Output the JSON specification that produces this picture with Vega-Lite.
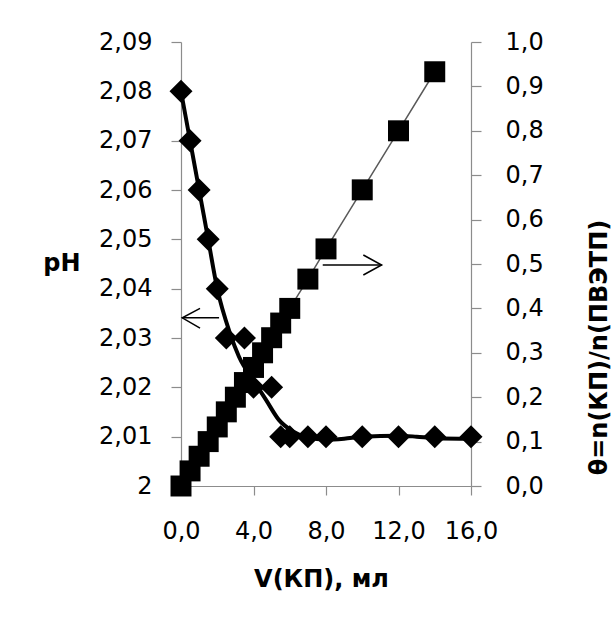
{
  "$schema": "https://vega.github.io/schema/vega-lite/v6.json",
  "width": 290,
  "height": 444,
  "autosize": {"type": "none"},
  "padding": {"left": 181, "top": 42, "right": 144, "bottom": 134},
  "background": "white",
  "config": {
    "view": {"stroke": null},
    "font": "DejaVu Sans",
    "axis": {
      "grid": false,
      "domainColor": "#8c8c8c",
      "tickColor": "#8c8c8c",
      "domainWidth": 1.2,
      "tickWidth": 1.2,
      "labelFont": "DejaVu Sans",
      "labelFontSize": 24,
      "labelColor": "#000000",
      "labelOverlap": false,
      "labelFlush": false,
      "titleFont": "DejaVu Sans",
      "titleFontSize": 24,
      "titleFontWeight": "bold",
      "titleColor": "#000000"
    }
  },
  "datasets": {
    "curve": [
      {"V": 0, "pH": 2.08}, {"V": 0.5, "pH": 2.07}, {"V": 1, "pH": 2.06},
      {"V": 1.5, "pH": 2.05}, {"V": 2, "pH": 2.04}, {"V": 2.7, "pH": 2.031},
      {"V": 3.2, "pH": 2.0262}, {"V": 4.05, "pH": 2.0211}, {"V": 4.7, "pH": 2.0174},
      {"V": 5.4, "pH": 2.0134}, {"V": 6.2, "pH": 2.011}, {"V": 7, "pH": 2.0098},
      {"V": 8, "pH": 2.0094}, {"V": 9, "pH": 2.0096}, {"V": 10, "pH": 2.01},
      {"V": 12, "pH": 2.0102}, {"V": 13, "pH": 2.01}, {"V": 14, "pH": 2.0097},
      {"V": 16, "pH": 2.0096}
    ],
    "ph": [
      {"V": 0, "pH": 2.08}, {"V": 0.5, "pH": 2.07}, {"V": 1, "pH": 2.06},
      {"V": 1.5, "pH": 2.05}, {"V": 2, "pH": 2.04}, {"V": 2.5, "pH": 2.03},
      {"V": 3.5, "pH": 2.03}, {"V": 4, "pH": 2.02}, {"V": 5, "pH": 2.02},
      {"V": 5.5, "pH": 2.01}, {"V": 6, "pH": 2.01}, {"V": 7, "pH": 2.01},
      {"V": 8, "pH": 2.01}, {"V": 10, "pH": 2.01}, {"V": 12, "pH": 2.01},
      {"V": 14, "pH": 2.01}, {"V": 16, "pH": 2.01}
    ],
    "theta": [
      {"V": 0, "theta": 0}, {"V": 0.5, "theta": 0.034}, {"V": 1, "theta": 0.067},
      {"V": 1.5, "theta": 0.1}, {"V": 2, "theta": 0.133}, {"V": 2.5, "theta": 0.167},
      {"V": 3, "theta": 0.2}, {"V": 3.5, "theta": 0.233}, {"V": 4, "theta": 0.267},
      {"V": 4.5, "theta": 0.3}, {"V": 5, "theta": 0.334}, {"V": 5.5, "theta": 0.367},
      {"V": 6, "theta": 0.4}, {"V": 7, "theta": 0.466}, {"V": 8, "theta": 0.534},
      {"V": 10, "theta": 0.667}, {"V": 12, "theta": 0.8}, {"V": 14, "theta": 0.933}
    ],
    "arrowL": [
      {"part": "shaft", "o": 1, "V": 0.07, "pH": 2.0341},
      {"part": "shaft", "o": 2, "V": 2.1, "pH": 2.0341},
      {"part": "head", "o": 1, "V": 1.05, "pH": 2.036},
      {"part": "head", "o": 2, "V": 0.07, "pH": 2.0341},
      {"part": "head", "o": 3, "V": 1.05, "pH": 2.032}
    ],
    "arrowR": [
      {"part": "shaft", "o": 1, "V": 7.82, "theta": 0.4977},
      {"part": "shaft", "o": 2, "V": 11.07, "theta": 0.4977},
      {"part": "head", "o": 1, "V": 10.06, "theta": 0.5203},
      {"part": "head", "o": 2, "V": 11.07, "theta": 0.4977},
      {"part": "head", "o": 3, "V": 10.06, "theta": 0.4752}
    ]
  },
  "layer": [
    {
      "layer": [
        {
          "data": {"name": "curve"},
          "mark": {"type": "line", "interpolate": "monotone", "color": "#000000", "strokeWidth": 4},
          "encoding": {
            "x": {
              "field": "V", "type": "quantitative",
              "scale": {"domain": [0, 16], "nice": false},
              "axis": {
                "values": [0, 4, 8, 12, 16],
                "tickSize": 9,
                "labelPadding": 24,
                "labelExpr": "replace(format(datum.value, '.1f'), '.', ',')",
                "title": "V(КП), мл",
                "titleX": 140,
                "titleY": 100,
                "titleAlign": "center",
                "titleBaseline": "alphabetic"
              }
            },
            "y": {
              "field": "pH", "type": "quantitative",
              "scale": {"domain": [2, 2.09], "nice": false, "zero": false},
              "axis": {
                "orient": "left",
                "values": [2, 2.01, 2.02, 2.03, 2.04, 2.05, 2.06, 2.07, 2.08, 2.09],
                "tickSize": 10,
                "labelPadding": 19,
                "labelExpr": "datum.value == 2 ? '2' : replace(format(datum.value, '.2f'), '.', ',')",
                "title": "pH",
                "titleAngle": 0,
                "titleAlign": "right",
                "titleBaseline": "alphabetic",
                "titleX": -101,
                "titleY": 228
              }
            }
          }
        },
        {
          "data": {"name": "ph"},
          "mark": {"type": "point", "shape": "diamond", "filled": true, "color": "#000000", "size": 530, "opacity": 1},
          "encoding": {
            "x": {"field": "V", "type": "quantitative"},
            "y": {"field": "pH", "type": "quantitative"}
          }
        },
        {
          "data": {"name": "arrowL"},
          "mark": {"type": "line", "color": "#000000", "strokeWidth": 1.5},
          "encoding": {
            "x": {"field": "V", "type": "quantitative"},
            "y": {"field": "pH", "type": "quantitative"},
            "detail": {"field": "part"},
            "order": {"field": "o"}
          }
        }
      ]
    },
    {
      "layer": [
        {
          "data": {"name": "theta"},
          "mark": {"type": "line", "color": "#595959", "strokeWidth": 1.5},
          "encoding": {
            "x": {"field": "V", "type": "quantitative"},
            "y": {
              "field": "theta", "type": "quantitative",
              "scale": {"domain": [0, 1], "nice": false},
              "axis": {
                "orient": "right",
                "values": [0, 0.1, 0.2, 0.3, 0.4, 0.5, 0.6, 0.7, 0.8, 0.9, 1],
                "tickSize": 10,
                "labelPadding": 24,
                "labelExpr": "replace(format(datum.value, '.1f'), '.', ',')",
                "title": "θ=n(КП)/n(ПВЭТП)",
                "titleAngle": 270,
                "titleAlign": "center",
                "titleBaseline": "alphabetic",
                "titleX": 135,
                "titleY": 305
              }
            }
          }
        },
        {
          "data": {"name": "theta"},
          "mark": {"type": "point", "shape": "square", "filled": true, "color": "#000000", "size": 440, "opacity": 1},
          "encoding": {
            "x": {"field": "V", "type": "quantitative"},
            "y": {"field": "theta", "type": "quantitative"}
          }
        },
        {
          "data": {"name": "arrowR"},
          "mark": {"type": "line", "color": "#000000", "strokeWidth": 1.5},
          "encoding": {
            "x": {"field": "V", "type": "quantitative"},
            "y": {"field": "theta", "type": "quantitative"},
            "detail": {"field": "part"},
            "order": {"field": "o"}
          }
        }
      ]
    }
  ],
  "resolve": {"scale": {"y": "independent"}}
}
